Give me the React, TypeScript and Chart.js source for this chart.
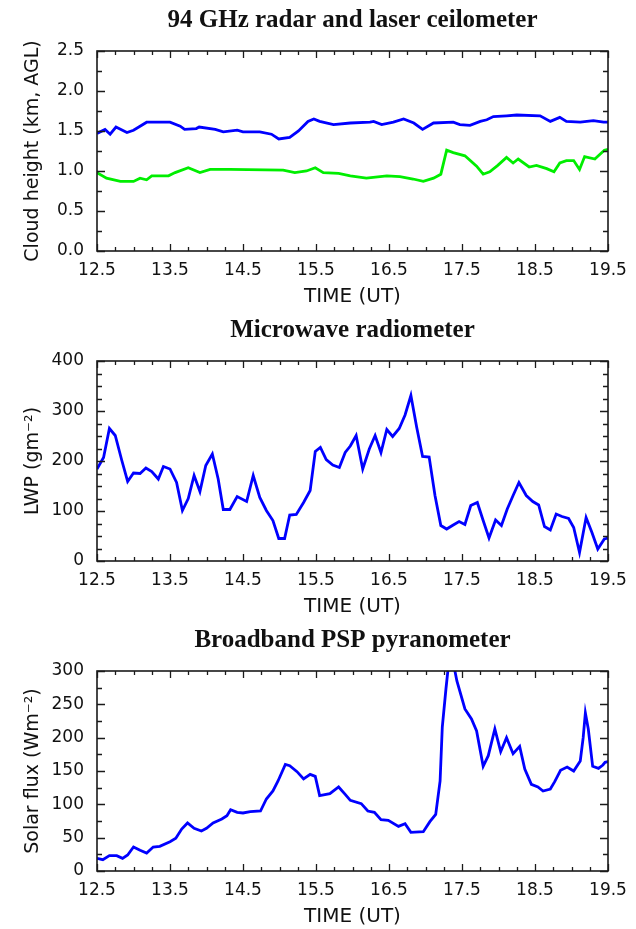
import React, { useEffect, useRef } from "react";
import { Chart, registerables } from "chart.js";

Chart.register(...registerables);

// Shared time axis (UT hours)
const timeTicks = [12.5, 13.5, 14.5, 15.5, 16.5, 17.5, 18.5, 19.5];

// 94 GHz radar cloud height, [time, km]
const radarHeight: [number, number][] = [
  [12.5, 1.47], [12.61, 1.52], [12.68, 1.46], [12.76, 1.55], [12.91, 1.48], [13.0, 1.51],
  [13.09, 1.56], [13.18, 1.61], [13.5, 1.61], [13.64, 1.56], [13.7, 1.52], [13.86, 1.53],
  [13.9, 1.55], [14.12, 1.52], [14.23, 1.49], [14.42, 1.51], [14.5, 1.49], [14.73, 1.49],
  [14.89, 1.46], [14.99, 1.4], [15.14, 1.42], [15.26, 1.5], [15.39, 1.62], [15.47, 1.65],
  [15.55, 1.62], [15.74, 1.58], [15.97, 1.6], [16.24, 1.61], [16.29, 1.62], [16.4, 1.58],
  [16.56, 1.61], [16.7, 1.65], [16.84, 1.6], [16.96, 1.52], [17.11, 1.6], [17.38, 1.61],
  [17.47, 1.58], [17.61, 1.57], [17.75, 1.62], [17.84, 1.64], [17.93, 1.68], [18.11, 1.69],
  [18.25, 1.7], [18.57, 1.69], [18.71, 1.62], [18.84, 1.67], [18.93, 1.62], [19.12, 1.61],
  [19.3, 1.63], [19.44, 1.61], [19.5, 1.61],
];

// Laser ceilometer cloud base, [time, km]
const ceilometerHeight: [number, number][] = [
  [12.5, 0.98], [12.63, 0.91], [12.82, 0.87], [13.0, 0.87], [13.09, 0.91], [13.18, 0.89],
  [13.25, 0.94], [13.48, 0.94], [13.57, 0.98], [13.75, 1.04], [13.91, 0.98], [14.05, 1.02],
  [14.32, 1.02], [15.05, 1.01], [15.21, 0.98], [15.37, 1.0], [15.49, 1.04], [15.6, 0.98],
  [15.81, 0.97], [15.97, 0.94], [16.19, 0.91], [16.47, 0.94], [16.65, 0.93], [16.83, 0.9],
  [16.97, 0.87], [17.11, 0.91], [17.21, 0.96], [17.29, 1.26], [17.38, 1.23], [17.54, 1.19],
  [17.7, 1.06], [17.79, 0.96], [17.88, 0.99], [17.99, 1.07], [18.11, 1.17], [18.2, 1.1],
  [18.27, 1.15], [18.42, 1.05], [18.52, 1.07], [18.66, 1.03], [18.76, 0.99], [18.84, 1.1],
  [18.93, 1.13], [19.03, 1.13], [19.11, 1.02], [19.18, 1.18], [19.32, 1.15], [19.45, 1.26],
  [19.5, 1.27],
];

// Microwave radiometer liquid water path, [time, g m-2]
const liquidWaterPath: [number, number][] = [
  [12.5, 184], [12.59, 207], [12.67, 265], [12.75, 251], [12.84, 201], [12.92, 159],
  [13.0, 176], [13.09, 175], [13.17, 186], [13.25, 179], [13.34, 164], [13.41, 189],
  [13.5, 184], [13.59, 157], [13.67, 101], [13.75, 125], [13.83, 171], [13.91, 139],
  [13.99, 191], [14.08, 214], [14.16, 164], [14.23, 103], [14.32, 103], [14.42, 129],
  [14.55, 119], [14.64, 171], [14.73, 127], [14.82, 101], [14.91, 81], [14.99, 45],
  [15.07, 45], [15.14, 92], [15.23, 93], [15.33, 117], [15.42, 141], [15.49, 219],
  [15.56, 227], [15.64, 203], [15.73, 192], [15.82, 187], [15.9, 217], [15.97, 230],
  [16.05, 251], [16.14, 184], [16.23, 224], [16.31, 251], [16.39, 217], [16.47, 263],
  [16.55, 249], [16.64, 265], [16.72, 292], [16.8, 331], [16.88, 267], [16.96, 209],
  [17.05, 208], [17.13, 131], [17.21, 71], [17.29, 64], [17.38, 72], [17.46, 79],
  [17.54, 73], [17.62, 111], [17.71, 117], [17.79, 81], [17.87, 46], [17.96, 82],
  [18.04, 71], [18.12, 104], [18.2, 131], [18.28, 157], [18.38, 131], [18.47, 119],
  [18.55, 112], [18.63, 69], [18.71, 62], [18.79, 94], [18.87, 89], [18.96, 85],
  [19.03, 67], [19.11, 17], [19.2, 87], [19.28, 57], [19.36, 24], [19.45, 44],
  [19.5, 46],
];

// PSP pyranometer broadband solar flux, [time, W m-2]
const solarFlux: [number, number][] = [
  [12.5, 19], [12.58, 17], [12.67, 23], [12.77, 23], [12.85, 19], [12.92, 24],
  [13.0, 36], [13.09, 31], [13.18, 27], [13.27, 36], [13.36, 37], [13.5, 44],
  [13.58, 49], [13.66, 63], [13.74, 72], [13.83, 64], [13.93, 60], [14.0, 64],
  [14.09, 72], [14.21, 78], [14.28, 83], [14.33, 92], [14.42, 88], [14.5, 87],
  [14.6, 89], [14.74, 90], [14.82, 108], [14.91, 120], [14.98, 135], [15.08, 160],
  [15.14, 158], [15.24, 149], [15.33, 138], [15.42, 145], [15.49, 142], [15.55, 113],
  [15.69, 116], [15.81, 126], [15.9, 115], [15.97, 106], [16.12, 101], [16.21, 90],
  [16.3, 88], [16.39, 77], [16.49, 76], [16.63, 67], [16.72, 71], [16.8, 58],
  [16.97, 59], [17.06, 74], [17.14, 85], [17.2, 135], [17.23, 216], [17.28, 273],
  [17.34, 335], [17.43, 285], [17.54, 243], [17.63, 228], [17.7, 210], [17.79, 157],
  [17.86, 173], [17.95, 213], [18.03, 179], [18.11, 200], [18.2, 176], [18.29, 187],
  [18.36, 153], [18.45, 130], [18.54, 126], [18.61, 120], [18.71, 123], [18.77, 134],
  [18.85, 151], [18.94, 156], [19.03, 150], [19.12, 165], [19.16, 200], [19.19, 237],
  [19.23, 213], [19.29, 157], [19.37, 154], [19.43, 159], [19.46, 163], [19.5, 164],
];

const heightTicks = [0, 0.5, 1.0, 1.5, 2.0, 2.5];
const lwpTicks = [0, 100, 200, 300, 400];
const fluxTicks = [0, 50, 100, 150, 200, 250, 300];

const SANS = '"DejaVu Sans", sans-serif';
const SERIF = '"Liberation Serif", "Times New Roman", serif';

type Panel = {
  title: string;
  yTitle: string;
  yTicks: number[];
  yMinor: number;
  decimals: number;
  series: { points: [number, number][]; color: string }[];
};

const panels: Panel[] = [
  {
    title: "94 GHz radar and laser ceilometer",
    yTitle: "Cloud height (km, AGL)",
    yTicks: heightTicks,
    yMinor: 0.25,
    decimals: 1,
    series: [
      { points: radarHeight, color: "#0000ff" },
      { points: ceilometerHeight, color: "#00ee00" },
    ],
  },
  {
    title: "Microwave radiometer",
    yTitle: "LWP (gm\u207B\u00B2)",
    yTicks: lwpTicks,
    yMinor: 25,
    decimals: 0,
    series: [{ points: liquidWaterPath, color: "#0000ff" }],
  },
  {
    title: "Broadband PSP pyranometer",
    yTitle: "Solar flux (Wm\u207B\u00B2)",
    yTicks: fluxTicks,
    yMinor: 25,
    decimals: 0,
    series: [{ points: solarFlux, color: "#0000ff" }],
  },
];

const PANEL_W = 636;
const PANEL_H = 310;
const PLOT_TOP = 51;
const PLOT_H = 200;
const PLOT_LEFT = 97;
const PLOT_RIGHT_PAD = 28;

// Draws the plot frame, inward tick marks on all four sides and the panel heading
const frameAndTicks = {
  id: "frameAndTicks",
  afterDatasetsDraw(chart: any, _args: any, opts: any) {
    const { ctx, chartArea: a, scales } = chart;
    const xs = scales.x;
    const ys = scales.y;
    ctx.save();
    ctx.strokeStyle = "#1a1a1a";
    ctx.lineWidth = 1.6;
    ctx.strokeRect(a.left, a.top, a.right - a.left, a.bottom - a.top);

    ctx.lineWidth = 1.3;
    ctx.beginPath();
    const xMinor = 0.25;
    const nX = Math.round((xs.max - xs.min) / xMinor);
    for (let i = 0; i <= nX; i++) {
      const v = xs.min + i * xMinor;
      const px = Math.round(xs.getPixelForValue(v)) + 0.5;
      const len = i % 4 === 0 ? 7 : 4;
      ctx.moveTo(px, a.bottom);
      ctx.lineTo(px, a.bottom - len);
      ctx.moveTo(px, a.top);
      ctx.lineTo(px, a.top + len);
    }
    const yMinor = opts.yMinor;
    const majorEvery = opts.yMajorEvery;
    const nY = Math.round((ys.max - ys.min) / yMinor);
    for (let i = 0; i <= nY; i++) {
      const v = ys.min + i * yMinor;
      const py = Math.round(ys.getPixelForValue(v)) + 0.5;
      const len = i % majorEvery === 0 ? 8 : 5;
      ctx.moveTo(a.left, py);
      ctx.lineTo(a.left + len, py);
      ctx.moveTo(a.right, py);
      ctx.lineTo(a.right - len, py);
    }
    ctx.stroke();

    ctx.fillStyle = "#111";
    ctx.font = `bold 25px ${SERIF}`;
    ctx.textAlign = "center";
    ctx.textBaseline = "middle";
    ctx.fillText(opts.title, (a.left + a.right) / 2, 21);
    ctx.restore();
  },
};

function PanelChart({ panel }: { panel: Panel }) {
  const ref = useRef<HTMLCanvasElement | null>(null);

  useEffect(() => {
    if (!ref.current) return;
    const yMin = panel.yTicks[0];
    const yMax = panel.yTicks[panel.yTicks.length - 1];
    const yStep = panel.yTicks[1] - panel.yTicks[0];
    const chart = new Chart(ref.current, {
      type: "line",
      data: {
        datasets: panel.series.map((s) => ({
          data: s.points.map(([x, y]) => ({ x, y })),
          borderColor: s.color,
          backgroundColor: s.color,
          borderWidth: 2.8,
          pointRadius: 0,
          tension: 0,
          fill: false,
          clip: 0,
        })),
      },
      options: {
        animation: false,
        responsive: false,
        maintainAspectRatio: false,
        layout: {
          padding: { top: PLOT_TOP, left: 0, right: PLOT_RIGHT_PAD, bottom: 0 },
        },
        plugins: {
          legend: { display: false },
          tooltip: { enabled: false },
          title: { display: false },
          frameAndTicks: {
            title: panel.title,
            yMinor: panel.yMinor,
            yMajorEvery: Math.round(yStep / panel.yMinor),
          },
        } as any,
        scales: {
          x: {
            type: "linear",
            min: timeTicks[0],
            max: timeTicks[timeTicks.length - 1],
            grid: { display: false, drawTicks: false },
            border: { display: false },
            afterBuildTicks: (scale: any) => {
              scale.ticks = timeTicks.map((v) => ({ value: v }));
            },
            afterFit: (scale: any) => {
              scale.height = PANEL_H - PLOT_TOP - PLOT_H;
            },
            ticks: {
              padding: 9,
              color: "#111",
              font: { family: SANS, size: 17 },
              maxRotation: 0,
              autoSkip: false,
              callback: (v: any) => Number(v).toFixed(1),
            },
            title: {
              display: true,
              text: "TIME (UT)",
              color: "#111",
              font: { family: SANS, size: 20 },
              padding: { top: 0, bottom: 1 },
            },
          },
          y: {
            type: "linear",
            min: yMin,
            max: yMax,
            grid: { display: false, drawTicks: false },
            border: { display: false },
            afterBuildTicks: (scale: any) => {
              scale.ticks = panel.yTicks.map((v) => ({ value: v }));
            },
            afterFit: (scale: any) => {
              scale.width = PLOT_LEFT;
            },
            ticks: {
              padding: 13,
              color: "#111",
              font: { family: SANS, size: 17 },
              autoSkip: false,
              callback: (v: any) => Number(v).toFixed(panel.decimals),
            },
            title: {
              display: true,
              text: panel.yTitle,
              color: "#111",
              font: { family: SANS, size: 19 },
              padding: { top: 22, bottom: 0 },
            },
          },
        },
      },
      plugins: [frameAndTicks],
    });
    return () => chart.destroy();
  }, [panel]);

  return <canvas ref={ref} width={PANEL_W} height={PANEL_H} style={{ display: "block" }} />;
}

export default function App() {
  return (
    <div
      style={{
        position: "absolute",
        left: 0,
        top: 0,
        width: PANEL_W,
        height: 929,
        overflow: "hidden",
        background: "#fff",
      }}
    >
      {panels.map((p, i) => (
        <div key={i} style={{ position: "absolute", left: 0, top: i * PANEL_H, width: PANEL_W, height: PANEL_H }}>
          <PanelChart panel={p} />
        </div>
      ))}
    </div>
  );
}
